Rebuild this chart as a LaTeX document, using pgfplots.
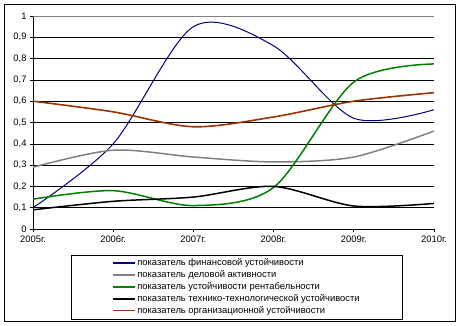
\documentclass[border=0pt]{standalone}
\usepackage{pgfplots}
\pgfplotsset{compat=1.18}
\usepackage{fontspec}
\setmainfont{Liberation Sans}
\definecolor{cblue}{RGB}{0,0,128}
\definecolor{cgray}{RGB}{128,128,128}
\definecolor{cgreen}{RGB}{0,128,0}
\definecolor{cbrown}{RGB}{153,51,0}
\newcommand\chartfont{\fontsize{9.4}{11}\selectfont}
\begin{document}
\begin{tikzpicture}[x=1pt,y=1pt]
\path[fill=white] (0,0) rectangle (461,325);
\draw[line width=0.8pt] (4,4) rectangle (455,321);
\draw[line width=0.8pt] (71.5,6) rectangle (402,70);
\begin{axis}[
 at={(33pt,96pt)}, anchor=south west,
 scale only axis, width=401pt, height=213pt,
 xmin=2005, xmax=2010, ymin=0, ymax=1,
 axis x line*=bottom, axis y line*=left,
 axis line style={line width=0.8pt, -},
 xtick={2005,2006,2007,2008,2009,2010},
 xticklabels={2005г.,2006г.,2007г.,2008г.,2009г.,2010г.},
 ytick={0,0.1,0.2,0.3,0.4,0.5,0.6,0.7,0.8,0.9,1},
 ymajorgrids, grid style={black, line width=0.6pt},
 tick align=outside, major tick length=3pt,
 tick style={black, line width=0.6pt},
 yticklabel style={/pgf/number format/.cd, use comma, fixed, assume math mode=true},
 every tick label/.append style={font=\chartfont},
 legend style={at={(axis description cs:0.508,-0.272)}, anchor=center, draw=none, fill=none, font=\chartfont, row sep=-0.6pt, inner sep=0pt},
 legend cell align=left,
 legend image code/.code={\draw[#1] (0pt,0pt) -- (22pt,0pt);},
 legend image post style={line width=1.6pt},
]
\addplot[cblue, line width=1pt, smooth] coordinates {(2005,0.10)(2006,0.40)(2007,0.95)(2008,0.86)(2009,0.52)(2010,0.56)};
\addlegendentry{показатель финансовой устойчивости}
\addplot[cgray, line width=1.5pt, smooth] coordinates {(2005,0.29)(2006,0.37)(2007,0.338)(2008,0.315)(2009,0.338)(2010,0.46)};
\addlegendentry{показатель деловой активности}
\addplot[cgreen, line width=1.5pt, smooth] coordinates {(2005,0.14)(2006,0.18)(2007,0.11)(2008,0.195)(2009,0.69)(2010,0.775)};
\addlegendentry{показатель устойчивости рентабельности}
\addplot[black, line width=1.5pt, smooth] coordinates {(2005,0.09)(2006,0.13)(2007,0.15)(2008,0.20)(2009,0.108)(2010,0.12)};
\addlegendentry{показатель технико-технологической устойчивости}
\addplot[cbrown, line width=1.6pt, smooth] coordinates {(2005,0.60)(2006,0.55)(2007,0.48)(2008,0.526)(2009,0.60)(2010,0.64)};
\addlegendentry{показатель организационной устойчивости}
\draw[cgray, line width=0.8pt] (axis cs:2005,1) -- (axis cs:2010,1) -- (axis cs:2010,0);
\end{axis}
\end{tikzpicture}
\end{document}
